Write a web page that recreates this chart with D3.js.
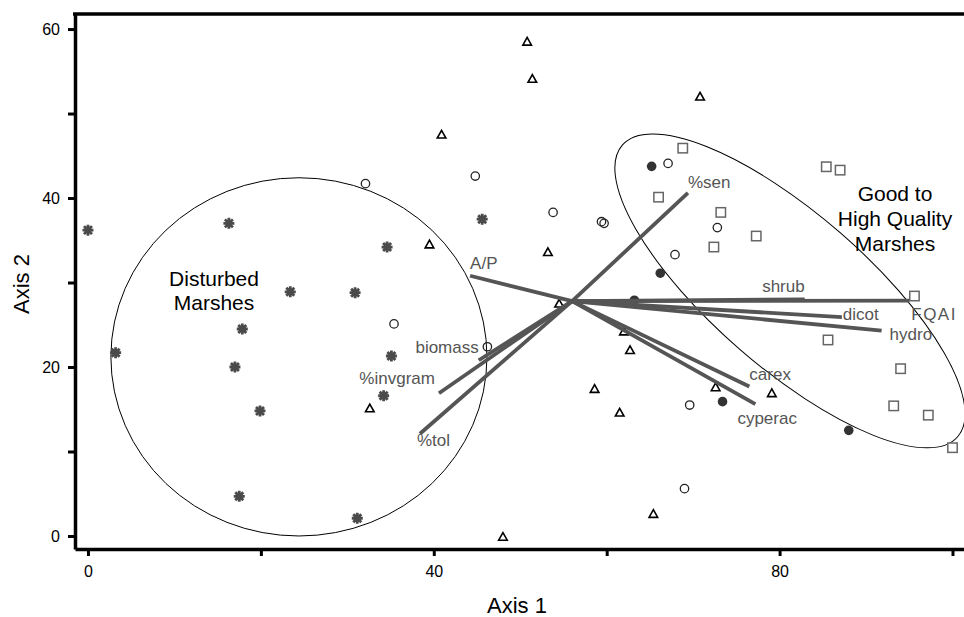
<!DOCTYPE html>
<html>
<head>
<meta charset="utf-8">
<script src="https://cdn.jsdelivr.net/npm/d3@7/dist/d3.min.js"></script>
<style>
body { margin: 0; background: #fff; }
svg { font-family: "Liberation Sans", Arial, Helvetica, sans-serif; }
</style>
</head>
<body>
<div id="chart"></div>
<script>
// site scores (axis 1, axis 2), one pair of arrays per symbol group
var asteriskX = [0, 16.3, 34.6, 23.4, 30.9, 45.6, 17.85, 3.2, 17.0, 35.1, 34.2, 19.9, 17.5, 31.15];
var asteriskY = [36.2, 37.0, 34.2, 28.9, 28.8, 37.5, 24.5, 21.7, 20.0, 21.3, 16.6, 14.8, 4.7, 2.1];

var openCircleX = [32.1, 44.8, 53.8, 59.4, 59.7, 67.1, 72.8, 67.9, 35.4, 46.2, 69.6, 69.0];
var openCircleY = [41.7, 42.6, 38.3, 37.2, 37.0, 44.1, 36.5, 33.3, 25.1, 22.4, 15.5, 5.6];

var filledCircleX = [65.2, 66.2, 63.2, 73.4, 88.0];
var filledCircleY = [43.75, 31.1, 27.9, 15.9, 12.5];

var triangleX = [50.8, 51.4, 40.9, 70.8, 39.5, 53.2, 54.5, 62.0, 62.7, 32.6, 58.6, 61.5, 72.6, 79.1, 65.4, 48.0];
var triangleY = [58.5, 54.1, 47.5, 52.0, 34.5, 33.6, 27.5, 24.2, 22.0, 15.1, 17.4, 14.6, 17.6, 16.9, 2.6, -0.1];

var squareX = [68.8, 66.0, 73.2, 77.3, 72.4, 85.4, 87.0, 95.6, 85.6, 94.0, 93.2, 97.2, 100.0];
var squareY = [45.9, 40.1, 38.3, 35.5, 34.2, 43.7, 43.3, 28.4, 23.2, 19.8, 15.4, 14.3, 10.45];

// joint-plot vectors
var vectorOrigin = [56.0, 27.8];
var vectorNames = ["A/P", "%sen", "shrub", "FQAI", "dicot", "hydro", "carex", "cyperac", "biomass", "%invgram", "%tol"];
var vectorEndX = [44.2, 69.4, 82.9, 95.0, 87.2, 91.8, 76.5, 77.2, 45.2, 40.6, 38.4];
var vectorEndY = [30.8, 40.6, 28.0, 27.85, 25.9, 24.3, 17.7, 15.6, 20.8, 16.9, 12.1];

// group ellipses
var groupNames = ["Disturbed", "Good"];
var groupCenterX = [24.4, 81.2];
var groupCenterY = [21.2, 29.0];
var groupRadiusA = [21.75, 25.7];
var groupRadiusB = [21.2, 8.9];
var groupAngle = [0, 41];

var xTicks = [0, 20, 40, 60, 80, 100];
var yTicks = [0, 10, 20, 30, 40, 50, 60];

function ordinationChart(id) {
	var w = 964, h = 617;
	var svg = d3.select("#" + id).append("svg")
		.attr("width", w)
		.attr("height", h);

	var x = d3.scaleLinear().domain([-1.5, 101.33]).range([75, 964]);
	var y = d3.scaleLinear().domain([-1.54, 61.78]).range([549, 14]);
	var kx = x(1) - x(0);
	var ky = y(0) - y(1);

	// axes
	var xAxis = d3.axisBottom(x).tickValues(xTicks).tickSize(7).tickSizeOuter(0).tickPadding(10)
		.tickFormat(function(d) { return d % 40 === 0 ? d : ""; });
	var yAxis = d3.axisLeft(y).tickValues(yTicks).tickSize(7).tickSizeOuter(0).tickPadding(8)
		.tickFormat(function(d) { return d % 20 === 0 ? d : ""; });

	var gx = svg.append("g").attr("transform", "translate(0,549)").call(xAxis);
	var gy = svg.append("g").attr("transform", "translate(75,0)").call(yAxis);
	[gx, gy].forEach(function(g) {
		g.select(".domain").attr("stroke", "#000").attr("stroke-width", 3.5);
		g.selectAll(".tick line").attr("stroke", "#000").attr("stroke-width", 3);
		g.selectAll(".tick text").attr("fill", "#000").style("font-size", "16px")
			.style("font-family", "'Liberation Sans', Arial, sans-serif");
	});
	svg.append("line")
		.attr("x1", 73).attr("x2", 964).attr("y1", 14).attr("y2", 14)
		.attr("stroke", "#000").attr("stroke-width", 3.5);

	svg.append("text")
		.attr("x", 517).attr("y", 613)
		.attr("text-anchor", "middle")
		.style("font-size", "22px")
		.text("Axis 1");
	svg.append("text")
		.attr("transform", "translate(29,284) rotate(-90)")
		.attr("text-anchor", "middle")
		.style("font-size", "22px")
		.text("Axis 2");

	var plot = svg.append("g");

	// ellipses round the two groups
	groupNames.forEach(function(name, i) {
		var cx = x(groupCenterX[i]), cy = y(groupCenterY[i]);
		plot.append("ellipse")
			.attr("cx", cx).attr("cy", cy)
			.attr("rx", groupRadiusA[i] * kx)
			.attr("ry", groupAngle[i] === 0 ? groupRadiusB[i] * ky : groupRadiusB[i] * kx)
			.attr("transform", "rotate(" + groupAngle[i] + "," + cx + "," + cy + ")")
			.attr("fill", "none")
			.attr("stroke", "#000")
			.attr("stroke-width", 1);
	});

	var groupText = plot.append("g").attr("fill", "#000").style("font-size", "21px").attr("text-anchor", "middle");
	groupText.append("text").attr("x", 214).attr("y", 286).text("Disturbed");
	groupText.append("text").attr("x", 214).attr("y", 310).text("Marshes");
	groupText.append("text").attr("x", 895).attr("y", 201).text("Good to");
	groupText.append("text").attr("x", 895).attr("y", 226).text("High Quality");
	groupText.append("text").attr("x", 895).attr("y", 251).text("Marshes");

	// site symbols
	plot.selectAll(".ast").data(asteriskX).enter().append("path")
		.attr("class", "ast")
		.attr("transform", function(d, i) { return "translate(" + x(d) + "," + y(asteriskY[i]) + ")"; })
		.attr("d", "M-5.5,0H5.5M0,-5.5V5.5M-4,-4L4,4M-4,4L4,-4")
		.attr("stroke", "#4a4a4a")
		.attr("stroke-width", 2.8)
		.attr("fill", "none");

	plot.selectAll(".ocirc").data(openCircleX).enter().append("circle")
		.attr("class", "ocirc")
		.attr("cx", function(d) { return x(d); })
		.attr("cy", function(d, i) { return y(openCircleY[i]); })
		.attr("r", 4.2)
		.attr("fill", "none")
		.attr("stroke", "#222")
		.attr("stroke-width", 1.3);

	plot.selectAll(".tri").data(triangleX).enter().append("path")
		.attr("class", "tri")
		.attr("transform", function(d, i) { return "translate(" + x(d) + "," + y(triangleY[i]) + ")"; })
		.attr("d", "M0,-4.3L4.3,3.4L-4.3,3.4Z")
		.attr("fill", "none")
		.attr("stroke", "#000")
		.attr("stroke-width", 1.6);

	plot.selectAll(".sq").data(squareX).enter().append("rect")
		.attr("class", "sq")
		.attr("x", function(d) { return x(d) - 4.7; })
		.attr("y", function(d, i) { return y(squareY[i]) - 4.7; })
		.attr("width", 9.4).attr("height", 9.4)
		.attr("fill", "#fff")
		.attr("stroke", "#666")
		.attr("stroke-width", 1.5);

	plot.selectAll(".fcirc").data(filledCircleX).enter().append("circle")
		.attr("class", "fcirc")
		.attr("cx", function(d) { return x(d); })
		.attr("cy", function(d, i) { return y(filledCircleY[i]); })
		.attr("r", 4.8)
		.attr("fill", "#333");

	// vectors
	var ox = x(vectorOrigin[0]), oy = y(vectorOrigin[1]);
	plot.selectAll(".vec").data(vectorNames).enter().append("line")
		.attr("class", "vec")
		.attr("x1", ox).attr("y1", oy)
		.attr("x2", function(d, i) { return x(vectorEndX[i]); })
		.attr("y2", function(d, i) { return y(vectorEndY[i]); })
		.attr("stroke", "#555")
		.attr("stroke-width", 3.8);

	// label placement next to the arrow tips: [anchor, dx, dy]
	var labelPlace = {
		"A/P": ["start", 0, -7], "%sen": ["start", 0, -5], "shrub": ["end", 0, -7],
		"FQAI": ["start", 2, 19], "dicot": ["start", 1, 3], "hydro": ["start", 8, 9],
		"carex": ["start", 0, -6], "cyperac": ["start", -18, 20], "biomass": ["end", 0, -7],
		"%invgram": ["end", -4, -9], "%tol": ["start", -3, 12]
	};
	plot.selectAll(".vlab").data(vectorNames).enter().append("text")
		.attr("class", "vlab")
		.attr("x", function(d, i) { return x(vectorEndX[i]) + labelPlace[d][1]; })
		.attr("y", function(d, i) { return y(vectorEndY[i]) + labelPlace[d][2]; })
		.attr("text-anchor", function(d) { return labelPlace[d][0]; })
		.attr("fill", "#555")
		.style("font-size", "17px")
		.style("letter-spacing", function(d) { return d === "FQAI" ? "1.5px" : null; })
		.text(function(d) { return d; });
}

ordinationChart("chart");
</script>
</body>
</html>
